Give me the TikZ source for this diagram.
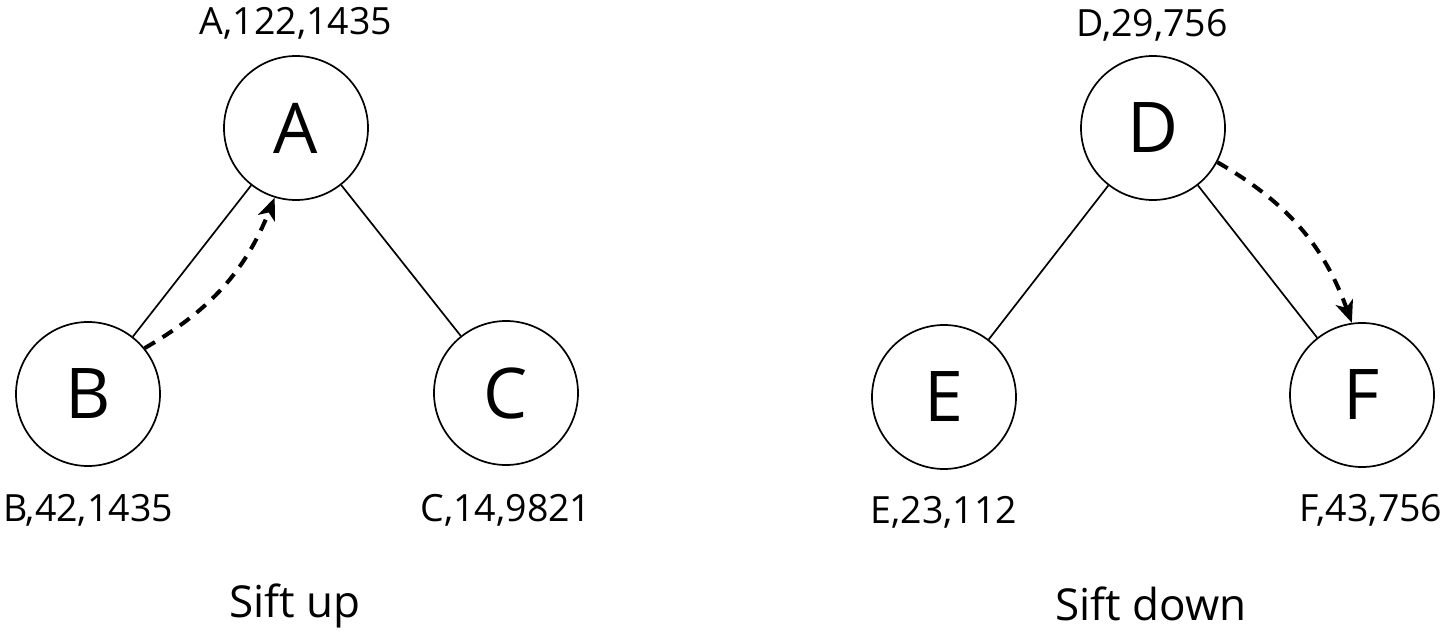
\documentclass[tikz,border=0pt]{standalone}
\usepackage{fontspec}
\setmainfont{Open Sans}
\usetikzlibrary{arrows.meta}
\tikzset{
  heapnode/.style={circle,draw,line width=1.7pt,minimum size=144pt,inner sep=0pt,font=\fontsize{70}{70}\selectfont},
  lbl/.style={anchor=base,inner sep=0pt,font=\fontsize{37.5}{37.5}\selectfont},
  ttl/.style={anchor=base,inner sep=0pt,font=\fontsize{44}{44}\selectfont},
  edge/.style={line width=1.7pt},
  sift/.style={line width=4pt,dash pattern=on 12pt off 9pt,-{Stealth[length=22pt,width=18pt,inset=6pt]}}
}
\begin{document}
\begin{tikzpicture}[x=1pt,y=-1pt]
\useasboundingbox (0,0) rectangle (1446,636);
\node[heapnode] (A) at (296,128) {A};
\node[heapnode] (B) at (88,394) {B};
\node[heapnode] (C) at (506,393) {C};
\node[heapnode] (D) at (1153,128) {D};
\node[heapnode] (E) at (944,397) {E};
\node[heapnode] (F) at (1362,395) {F};
\node[lbl] (la) at (296,35) {A,122,1435};
\node[lbl] (lb) at (88,521) {B,42,1435};
\node[lbl] (lc) at (506,521) {C,14,9821};
\node[lbl] (ld) at (1152,37) {D,29,756};
\node[lbl] (le) at (944,523) {E,23,112};
\node[lbl] (lf) at (1371,521) {F,43,756};
\node[ttl] (t1) at (295,617) {Sift up};
\node[ttl] (t2) at (1151,620) {Sift down};
\draw[edge] (A) -- (B);
\draw[edge] (A) -- (C);
\draw[edge] (D) -- (E);
\draw[edge] (D) -- (F);
\draw[sift] (B.39) to[out=30,in=248] (A.253);
\draw[sift] (D.-28) to[out=-30,in=110] (F.98);
\end{tikzpicture}
\end{document}
